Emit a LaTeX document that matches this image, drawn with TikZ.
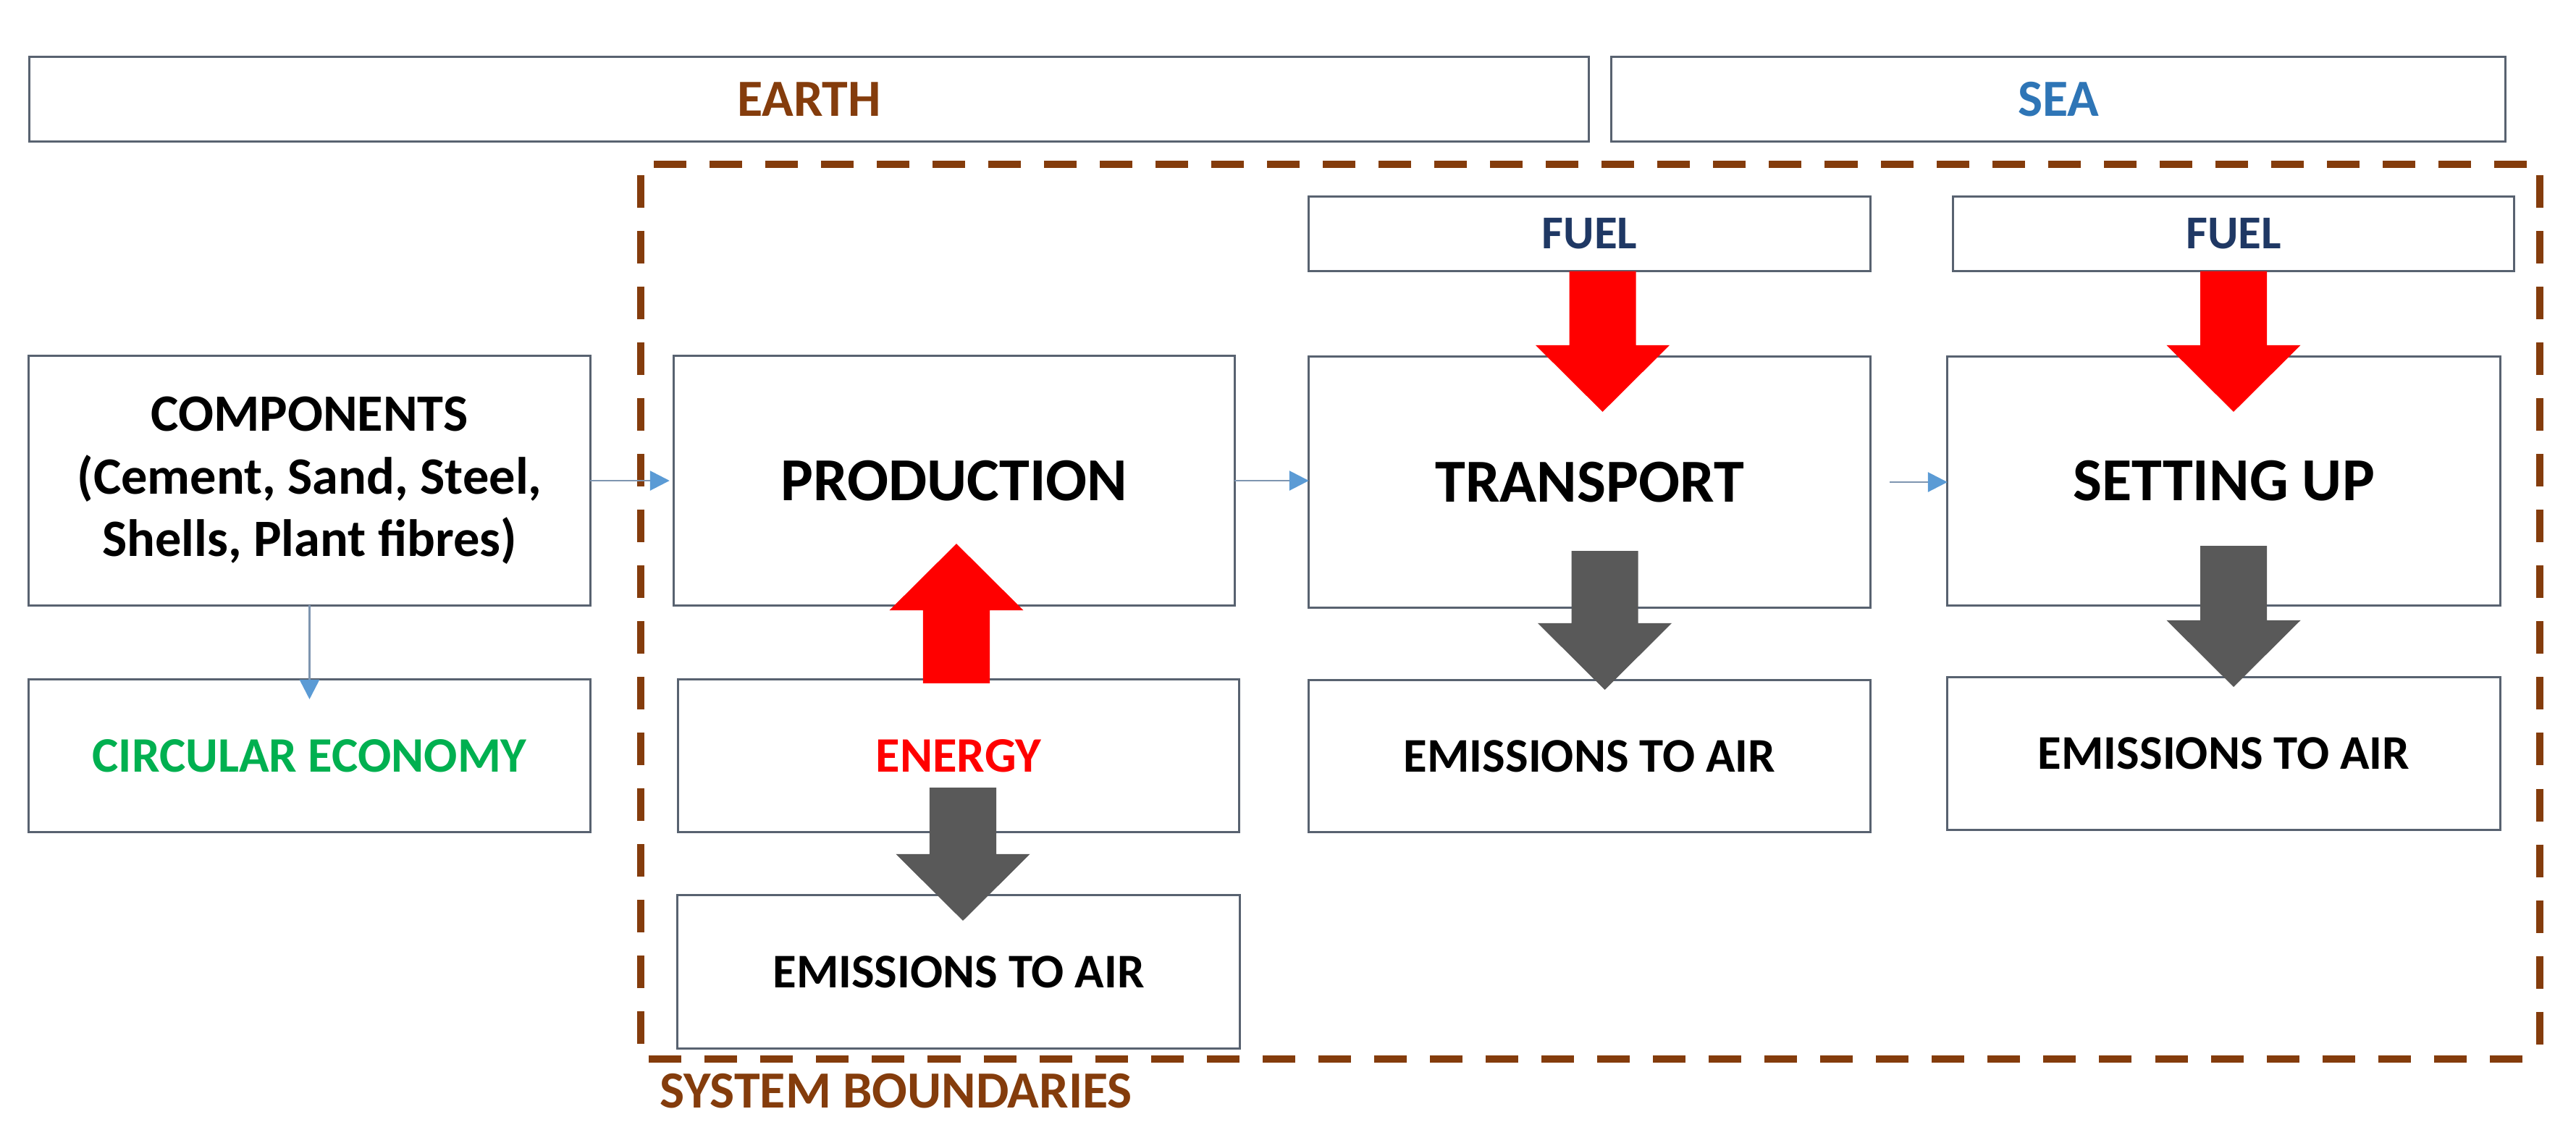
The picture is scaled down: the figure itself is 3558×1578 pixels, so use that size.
\documentclass[tikz,border=0pt]{standalone}
\usepackage{fontspec}
\setmainfont{Carlito}
\usetikzlibrary{calc,arrows.meta}
\definecolor{boxline}{RGB}{88,98,112}
\definecolor{brownb}{HTML}{843C0C}
\definecolor{seablue}{HTML}{2E75B6}
\definecolor{fuelblue}{HTML}{1F3864}
\definecolor{greenc}{HTML}{00B050}
\definecolor{redc}{HTML}{FF0000}
\definecolor{grayarrow}{HTML}{595959}
\definecolor{linkline}{HTML}{7E95B0}
\definecolor{linkhead}{HTML}{5B9BD5}
% vertical block arrow: colour, tail point, tip point
\newcommand{\blockarr}[3]{%
  \fill[#1] let \p1=#2, \p2=#3, \n1={sign(\y2-\y1)} in
    ({\x1-0.46cm},\y1) -- ({\x1-0.46cm},{\y2-(\n1)*0.92cm}) --
    ({\x1-0.925cm},{\y2-(\n1)*0.92cm}) -- (\x1,\y2) --
    ({\x1+0.925cm},{\y2-(\n1)*0.92cm}) -- ({\x1+0.46cm},{\y2-(\n1)*0.92cm}) --
    ({\x1+0.46cm},\y1) -- cycle;}
\begin{document}
\begin{tikzpicture}[x=0.01cm,y=-0.01cm,
  box/.style={draw=boxline, line width=0.85pt, fill=white, inner sep=0pt, outer sep=0pt, align=center},
  tbig/.style={font=\fontsize{24pt}{28pt}\selectfont\bfseries},
  tmid/.style={font=\fontsize{20.5pt}{24pt}\selectfont\bfseries},
  tcomp/.style={font=\fontsize{20.6pt}{24.6pt}\selectfont\bfseries},
  tsmall/.style={font=\fontsize{19pt}{22pt}\selectfont\bfseries},
  tfuel/.style={font=\fontsize{18.5pt}{22pt}\selectfont\bfseries},
  tlabel/.style={font=\fontsize{19.5pt}{22pt}\selectfont\bfseries},
  link/.style={draw=linkline, line width=0.8pt, -{Triangle[length=0.27cm,width=0.27cm,color=linkhead]}},
  boundary/.style={draw=brownb, line width=2.85pt, dash pattern=on 0.45cm off 0.32cm, line join=round},
]
\useasboundingbox (0,0) rectangle (3558,1578);
\fill[white] (0,0) rectangle (3558,1578);

% system boundary
\draw[boundary] (3490,227) -- (885,227) -- (885,1463) -- (3490,1463);
\draw[boundary] (3508,242) -- (3508,1447);
\node[anchor=base west, inner sep=0pt, text=brownb, tmid] (sblabel) at (911,1530) {SYSTEM BOUNDARIES};

% top bands
\node[box, minimum width=21.53cm, minimum height=1.16cm, text=brownb, tmid] (earth) at (1117.5,137) {EARTH};
\node[box, minimum width=12.34cm, minimum height=1.16cm, text=seablue, tmid] (sea) at (2843,137) {SEA};

% boxes
\node[box, minimum width=7.75cm, minimum height=3.44cm, tcomp] (comp) at (427.5,664)
  {COMPONENTS\\(Cement, Sand, Steel,\\Shells, Plant fibres)};
\node[box, minimum width=7.75cm, minimum height=2.10cm, text=greenc, tlabel] (circ) at (427.5,1044) {CIRCULAR ECONOMY};
\node[box, minimum width=7.74cm, minimum height=3.44cm, tbig] (prod) at (1318,664) {PRODUCTION};
\node[box, minimum width=7.74cm, minimum height=2.10cm, text=redc, tlabel] (energy) at (1324,1044) {ENERGY};
\node[box, minimum width=7.76cm, minimum height=2.11cm, tsmall] (emP) at (1324,1342.5) {EMISSIONS TO AIR};
\node[box, minimum width=7.75cm, minimum height=1.03cm, text=fuelblue, tfuel] (fuel1) at (2195.5,323) {FUEL};
\node[box, minimum width=7.75cm, minimum height=3.46cm, tbig] (trans) at (2195.5,666) {TRANSPORT};
\node[box, minimum width=7.75cm, minimum height=2.09cm, tsmall] (emT) at (2195.5,1044.5) {EMISSIONS TO AIR};
\node[box, minimum width=7.74cm, minimum height=1.03cm, text=fuelblue, tfuel] (fuel2) at (3085,323) {FUEL};
\node[box, minimum width=7.63cm, minimum height=3.43cm, tbig] (setup) at (3071.5,664.5) {SETTING UP};
\node[box, minimum width=7.63cm, minimum height=2.10cm, tsmall] (emS) at (3071.5,1041) {EMISSIONS TO AIR};

% thin flow links
\draw[link] (comp.east) -- ($(comp.east -| prod.west)+(-6,0)$);
\draw[link] (prod.east) -- (prod.east -| trans.west);
\draw[link] ($(trans.east)+(27,0)$) -- ($(trans.east -| setup.west)$);
\draw[link] (comp.south) -- ($(circ.north)+(0,27)$);

% block arrows
\blockarr{redc}{($(fuel1.south)+(18,0)$)}{($(trans.north)+(18,76)$)}
\blockarr{redc}{(fuel2.south)}{($(setup.north)+(13.5,76)$)}
\blockarr{redc}{($(energy.north)+(-3,5)$)}{($(prod.south)+(3,-85)$)}
\blockarr{grayarrow}{($(trans.south)+(21,-78)$)}{($(emT.north)+(21,13)$)}
\blockarr{grayarrow}{($(setup.south)+(13.5,-82)$)}{($(emS.north)+(13.5,13)$)}
\blockarr{grayarrow}{($(energy.south)+(6,-61)$)}{($(emP.north)+(6,35)$)}
\end{tikzpicture}
\end{document}
